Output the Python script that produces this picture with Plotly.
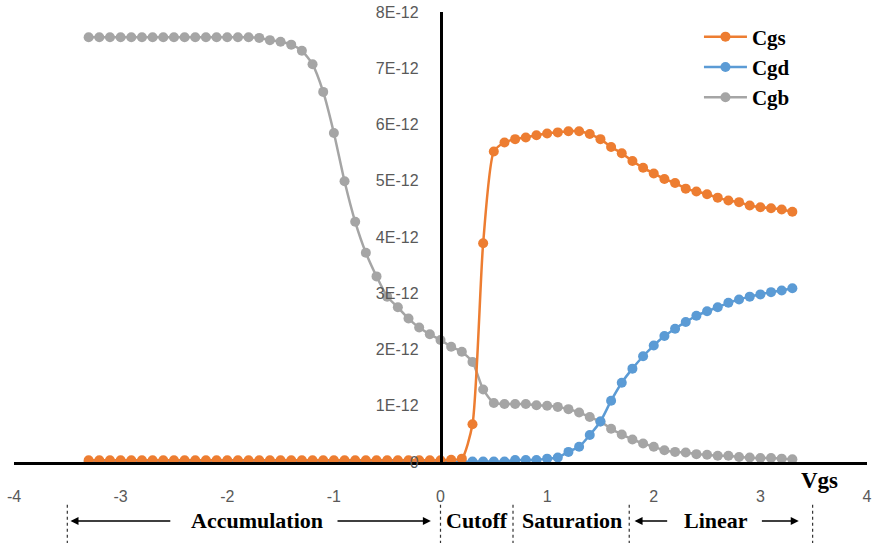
import plotly.graph_objects as go

VGS = [-3.3, -3.2, -3.1, -3.0, -2.9, -2.8, -2.7, -2.6, -2.5, -2.4, -2.3, -2.2, -2.1, -2.0,
       -1.9, -1.8, -1.7, -1.6, -1.5, -1.4, -1.3, -1.2, -1.1, -1.0, -0.9, -0.8, -0.7, -0.6,
       -0.5, -0.4, -0.3, -0.2, -0.1, 0.0, 0.1, 0.2, 0.3, 0.4, 0.5, 0.6, 0.7, 0.8, 0.9, 1.0,
       1.1, 1.2, 1.3, 1.4, 1.5, 1.6, 1.7, 1.8, 1.9, 2.0, 2.1, 2.2, 2.3, 2.4, 2.5, 2.6, 2.7,
       2.8, 2.9, 3.0, 3.1, 3.2, 3.3]

# capacitances in units of 1E-12 F
CGS = [0.03, 0.03, 0.03, 0.03, 0.03, 0.03, 0.03, 0.03, 0.03, 0.03, 0.03, 0.03, 0.03, 0.03,
       0.03, 0.03, 0.03, 0.03, 0.03, 0.03, 0.03, 0.03, 0.03, 0.03, 0.03, 0.03, 0.03, 0.03,
       0.03, 0.03, 0.03, 0.03, 0.03, 0.03, 0.04, 0.06, 0.67, 3.89, 5.52, 5.68, 5.74, 5.77,
       5.81, 5.84, 5.86, 5.88, 5.88, 5.83, 5.74, 5.60, 5.49, 5.35, 5.23, 5.13, 5.03, 4.96,
       4.86, 4.81, 4.76, 4.70, 4.65, 4.62, 4.56, 4.53, 4.51, 4.49, 4.45]

CGD = [0.0, 0.0, 0.0, 0.0, 0.0, 0.0, 0.0, 0.0, 0.0, 0.0, 0.0, 0.0, 0.0, 0.0,
       0.0, 0.0, 0.0, 0.0, 0.0, 0.0, 0.0, 0.0, 0.0, 0.0, 0.0, 0.0, 0.0, 0.0,
       0.0, 0.0, 0.0, 0.0, 0.0, 0.0, 0.0, 0.0, 0.01, 0.01, 0.01, 0.01, 0.035, 0.035,
       0.035, 0.06, 0.08, 0.18, 0.27, 0.48, 0.72, 1.09, 1.41, 1.66, 1.88, 2.07, 2.24, 2.37,
       2.49, 2.60, 2.68, 2.75, 2.83, 2.89, 2.94, 2.98, 3.02, 3.05, 3.09]

CGB = [7.55, 7.55, 7.55, 7.55, 7.55, 7.55, 7.55, 7.55, 7.55, 7.55, 7.55, 7.55, 7.55, 7.55,
       7.55, 7.55, 7.54, 7.50, 7.47, 7.42, 7.31, 7.07, 6.58, 5.85, 4.99, 4.27, 3.72, 3.30,
       2.94, 2.75, 2.55, 2.39, 2.27, 2.17, 2.05, 1.96, 1.78, 1.29, 1.05, 1.03, 1.03, 1.03,
       1.01, 1.00, 0.98, 0.94, 0.88, 0.80, 0.72, 0.59, 0.49, 0.40, 0.33, 0.27, 0.21, 0.18,
       0.17, 0.14, 0.13, 0.11, 0.11, 0.09, 0.08, 0.07, 0.07, 0.06, 0.05]

Y_TICKS = [0, 1, 2, 3, 4, 5, 6, 7, 8]
Y_TICK_LABELS = ["0", "1E-12", "2E-12", "3E-12", "4E-12", "5E-12", "6E-12", "7E-12", "8E-12"]
X_TICKS = [-4, -3, -2, -1, 0, 1, 2, 3, 4]
X_TICK_LABELS = ["-4", "-3", "-2", "-1", "0", "1", "2", "3", "4"]

ORANGE = "#ED7D31"
BLUE = "#5B9BD5"
GRAY = "#A5A5A5"

fig = go.Figure()
series = [("Cgb", CGB, GRAY, 3), ("Cgd", CGD, BLUE, 2), ("Cgs", CGS, ORANGE, 1)]
for name, vals, col, rank in series:
    fig.add_trace(go.Scatter(
        x=VGS, y=vals, name=name, mode="lines+markers",
        line=dict(color=col, width=2.5, shape="spline", smoothing=0.6),
        marker=dict(color=col, size=10),
        legendrank=rank,
    ))

serif = "Liberation Serif"
tickfont = dict(family="Liberation Sans", size=16, color="#595959")

fig.update_layout(
    width=880, height=543,
    margin=dict(l=14, r=13, t=12, b=81, autoexpand=False),
    paper_bgcolor="white", plot_bgcolor="white",
    showlegend=True,
    legend=dict(x=0.803, y=0.99, xanchor="left", yanchor="top",
                bgcolor="rgba(0,0,0,0)", tracegroupgap=0, itemwidth=43,
                font=dict(family=serif, size=21, color="black", weight="bold")),
    xaxis=dict(range=[-4, 4], tickvals=X_TICKS, ticktext=X_TICK_LABELS,
               showgrid=False, zeroline=False, automargin=False,
               showline=True, linecolor="black", linewidth=2.5, ticks="",
               tickfont=tickfont, ticklabelstandoff=18, ticklabeloverflow="allow"),
    yaxis=dict(range=[0, 8], tickvals=Y_TICKS, ticktext=Y_TICK_LABELS,
               showgrid=False, zeroline=False, anchor="free", position=0.5,
               automargin=False,
               showline=True, linecolor="black", linewidth=2.5, ticks="",
               tickfont=tickfont, ticklabelstandoff=18, ticklabeloverflow="allow"),
)

txt_font = dict(family=serif, size=22, color="black", weight="bold")
ann = [
    dict(x=3.55, y=-0.042, xref="x", yref="paper", text="Vgs", showarrow=False,
         yanchor="middle", font=dict(family=serif, size=23, color="black", weight="bold")),
    dict(x=-1.72, y=-0.131, xref="x", yref="paper", text="Accumulation", showarrow=False,
         yanchor="middle", font=txt_font),
    dict(x=0.34, y=-0.131, xref="x", yref="paper", text="Cutoff", showarrow=False,
         yanchor="middle", font=txt_font),
    dict(x=1.23, y=-0.131, xref="x", yref="paper", text="Saturation", showarrow=False,
         yanchor="middle", font=txt_font),
    dict(x=2.58, y=-0.131, xref="x", yref="paper", text="Linear", showarrow=False,
         yanchor="middle", font=txt_font),
]
arrows = [(-3.47, -2.52), (-0.09, -0.98), (1.82, 2.14), (3.36, 3.0)]
for head, tail in arrows:
    ann.append(dict(x=head, y=-0.131, xref="x", yref="paper", ax=tail, ay=0,
                    axref="x", ayref="pixel", text="", showarrow=True,
                    arrowhead=2, arrowsize=1, arrowwidth=1.6, arrowcolor="black", standoff=0))
fig.update_layout(annotations=ann)

for xv in [-3.5, 0.0, 0.68, 1.77, 3.49]:
    fig.add_shape(type="line", xref="x", yref="paper", x0=xv, x1=xv, y0=-0.095, y1=-0.19,
                  line=dict(color="#333333", width=1.2, dash="dot"))

# remove the browser's default body margin so the figure fills the window exactly
fig.write_html("out.html", config={"displayModeBar": False},
               post_script="document.body.style.margin='0';")
